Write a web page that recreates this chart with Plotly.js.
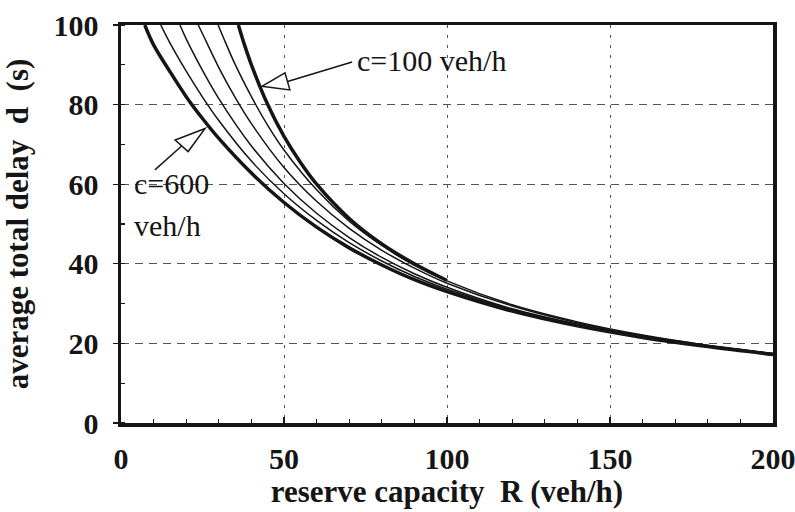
<!DOCTYPE html>
<html>
<head>
<meta charset="utf-8">
<script src="https://cdn.plot.ly/plotly-3.0.1.min.js"></script>
<style>html,body{margin:0;padding:0;background:#fff;}</style>
</head>
<body>
<div id="chart" style="width:795px;height:512px"></div>
<script>
// Reserve capacity R (veh/h) and average total delay d (s) for each capacity c
const R_c100 = [36, 38, 40, 45, 50, 55, 60, 70, 80, 90, 100];
const D_c100 = [100, 94.7, 90, 80, 72, 65.5, 60, 51.4, 45, 40, 35.8];

const R_c200 = [29.8, 32, 35, 40, 45, 50, 60, 70, 80, 90, 100, 120, 140, 160, 180, 200];
const D_c200 = [100, 95.7, 90.1, 82, 74.8, 68.6, 58.6, 50.7, 44.6, 39.6, 35.7, 29.7, 25.4, 22.1, 19.5, 17.4];

const R_c300 = [23.7, 25, 30, 35, 40, 50, 60, 70, 80, 90, 100, 120, 150, 175, 200];
const D_c300 = [100, 97.8, 89.3, 81.8, 75.2, 64.2, 55.7, 48.9, 43.4, 38.9, 35.1, 29.4, 23.4, 20.1, 17.5];

const R_c400 = [18.1, 20, 25, 30, 40, 50, 60, 70, 80, 90, 100, 120, 150, 175, 200];
const D_c400 = [100, 96.5, 88.6, 81.5, 69.6, 60.2, 52.7, 46.6, 41.6, 37.5, 34.1, 28.7, 23.2, 19.9, 17.4];

const R_c500 = [12.2, 15, 20, 25, 30, 40, 50, 60, 70, 80, 90, 100, 120, 140, 160, 180, 200];
const D_c500 = [100, 95.5, 88.4, 81.9, 76, 65.8, 57.6, 50.9, 45.3, 40.7, 36.8, 33.6, 28.5, 24.7, 21.7, 19.3, 17.3];

const R_c600 = [7.3, 10, 15, 20, 25, 30, 40, 50, 60, 70, 80, 90, 100, 120, 140, 160, 180, 200];
const D_c600 = [100, 95, 88.3, 82, 76.5, 71.5, 62.8, 55.4, 49.2, 44, 39.7, 36, 33, 28.1, 24.4, 21.5, 19.2, 17.2];

const xTickVals = [0, 50, 100, 150, 200];
const yTickVals = [0, 20, 40, 60, 80, 100];

const INK = '#151515';
const FAM = 'Liberation Serif';
const NB = '\u00A0';

function curve(x, y, w, name) {
  return {x: x, y: y, type: 'scatter', mode: 'lines', name: name,
    line: {color: INK, width: w, shape: 'spline', smoothing: 1}, hoverinfo: 'skip'};
}

const traces = [
  curve(R_c200, D_c200, 1.5, 'c=200'),
  curve(R_c300, D_c300, 1.5, 'c=300'),
  curve(R_c400, D_c400, 1.5, 'c=400'),
  curve(R_c500, D_c500, 1.5, 'c=500'),
  curve(R_c600, D_c600, 3.5, 'c=600'),
  curve(R_c100, D_c100, 3.5, 'c=100')
];

const layout = {
  width: 795, height: 512,
  margin: {l: 121, r: 22, t: 25, b: 89},
  paper_bgcolor: '#ffffff', plot_bgcolor: '#ffffff',
  showlegend: false,
  font: {family: FAM, size: 14, color: INK},
  xaxis: {
    range: [0, 200], tickvals: xTickVals, ticktext: xTickVals.map(String),
    ticks: 'inside', ticklen: 6, tickwidth: 1.2, tickcolor: INK,
    minor: {dtick: 10, ticks: 'inside', ticklen: 4, tickcolor: INK, showgrid: false},
    showline: true, linewidth: 3.5, linecolor: INK, mirror: true,
    showgrid: true, gridcolor: '#555', gridwidth: 1, griddash: '3px,7px',
    zeroline: false, ticklabelstandoff: 6, ticklabeloverflow: 'allow',
    tickfont: {family: FAM, size: 30, color: INK, weight: 'bold'},
    title: {text: 'reserve capacity' + NB + NB + 'R (veh/h)', standoff: 6,
      font: {family: FAM, size: 31, color: INK, weight: 'bold'}}
  },
  yaxis: {
    range: [0, 100], tickvals: yTickVals, ticktext: yTickVals.map(String),
    ticks: 'outside', ticklen: 5, tickwidth: 1.2, tickcolor: INK,
    minor: {dtick: 10, ticks: 'inside', ticklen: 4, tickcolor: INK, showgrid: false},
    showline: true, linewidth: 3.5, linecolor: INK, mirror: true,
    showgrid: true, gridcolor: '#555', gridwidth: 1, griddash: '8px,6px',
    zeroline: false, ticklabelstandoff: 8, ticklabeloverflow: 'allow',
    tickfont: {family: FAM, size: 30, color: INK, weight: 'bold'},
    title: {text: 'average total delay' + NB + NB + 'd' + NB + NB + '(s)', standoff: 16,
      font: {family: FAM, size: 31, color: INK, weight: 'bold'}}
  },
  annotations: [
    {x: 71.8, y: 91.2, xref: 'x', yref: 'y', text: 'c=100 veh/h', showarrow: false,
      xanchor: 'left', yanchor: 'middle', font: {family: FAM, size: 30, color: INK}},
    {x: 3.4, y: 60.3, xref: 'x', yref: 'y', text: 'c=600', showarrow: false,
      xanchor: 'left', yanchor: 'middle', font: {family: FAM, size: 30, color: INK}},
    {x: 3.4, y: 49.7, xref: 'x', yref: 'y', text: 'veh/h', showarrow: false,
      xanchor: 'left', yanchor: 'middle', font: {family: FAM, size: 30, color: INK}}
  ],
  shapes: [
    {type: 'line', xref: 'x', yref: 'y', x0: 51.1, y0: 85.8, x1: 70.9, y1: 90.7,
      line: {color: INK, width: 1.5}},
    {type: 'path', xref: 'x', yref: 'y', path: 'M 43.2 84.6 L 50.3 88.0 L 51.8 83.7 Z',
      fillcolor: '#ffffff', line: {color: INK, width: 1.5}},
    {type: 'line', xref: 'x', yref: 'y', x0: 18.6, y0: 69.6, x1: 10.4, y1: 63.6,
      line: {color: INK, width: 1.5}},
    {type: 'path', xref: 'x', yref: 'y', path: 'M 25.8 74.0 L 16.6 71.1 L 20.6 68.2 Z',
      fillcolor: '#ffffff', line: {color: INK, width: 1.5}}
  ]
};

Plotly.newPlot('chart', traces, layout, {displayModeBar: false, staticPlot: true});
</script>
</body>
</html>
